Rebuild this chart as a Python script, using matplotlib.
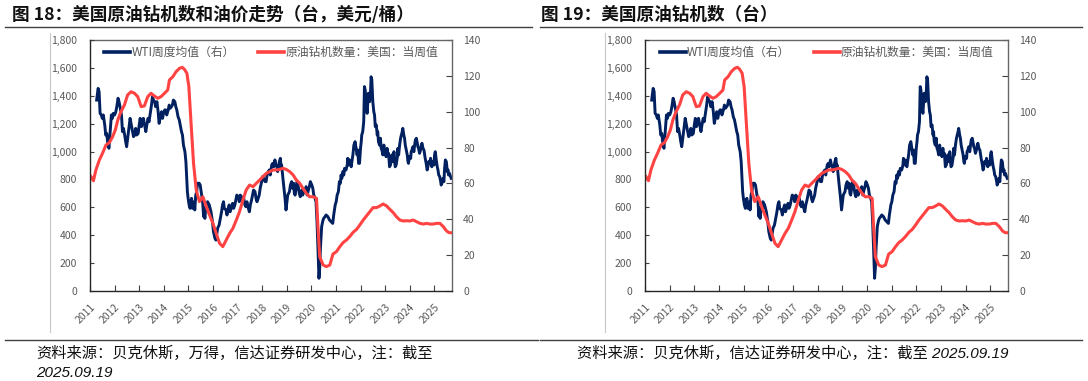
import matplotlib
matplotlib.use('Agg')
import matplotlib.pyplot as plt
from matplotlib.lines import Line2D
from matplotlib.ticker import FuncFormatter

plt.rcParams['font.family'] = ['Noto Sans CJK SC', 'DejaVu Sans']

# ---------------- data ----------------
# WTI weekly average (USD/bbl, right axis)
blue_years = [
    2011.27, 2011.33, 2011.37, 2011.41, 2011.46, 2011.50, 2011.54, 2011.60, 2011.64, 2011.68,
    2011.73, 2011.77, 2011.81, 2011.87, 2011.91, 2011.95, 2012.00, 2012.05, 2012.09, 2012.14,
    2012.18, 2012.22, 2012.28, 2012.32, 2012.36, 2012.41, 2012.45, 2012.49, 2012.55, 2012.59,
    2012.63, 2012.68, 2012.72, 2012.77, 2012.82, 2012.86, 2012.90, 2012.96, 2013.00, 2013.04,
    2013.09, 2013.13, 2013.17, 2013.23, 2013.27, 2013.31, 2013.36, 2013.40, 2013.44, 2013.50,
    2013.54, 2013.58, 2013.63, 2013.67, 2013.72, 2013.77, 2013.81, 2013.85, 2013.91, 2013.95,
    2013.99, 2014.04, 2014.08, 2014.12, 2014.18, 2014.22, 2014.26, 2014.31, 2014.35, 2014.39,
    2014.45, 2014.49, 2014.53, 2014.58, 2014.63, 2014.67, 2014.72, 2014.76, 2014.80, 2014.86,
    2014.90, 2014.94, 2014.96, 2014.99, 2015.03, 2015.07, 2015.10, 2015.13, 2015.17, 2015.21,
    2015.24, 2015.26, 2015.30, 2015.34, 2015.37, 2015.44, 2015.48, 2015.51, 2015.54, 2015.58,
    2015.62, 2015.64, 2015.67, 2015.71, 2015.75,
    2015.78, 2015.85, 2015.92, 2015.98, 2016.02, 2016.08, 2016.12, 2016.16, 2016.19, 2016.25,
    2016.30, 2016.35, 2016.39, 2016.43, 2016.46, 2016.53, 2016.57, 2016.62, 2016.66, 2016.70,
    2016.76, 2016.80, 2016.84, 2016.89, 2016.93, 2016.97, 2017.03, 2017.07, 2017.11, 2017.16,
    2017.21, 2017.25, 2017.30, 2017.34, 2017.38, 2017.44, 2017.48, 2017.52, 2017.57, 2017.61,
    2017.65, 2017.71, 2017.75, 2017.79, 2017.84, 2017.88, 2017.92, 2017.98, 2018.02, 2018.06,
    2018.12, 2018.16, 2018.20, 2018.25, 2018.29, 2018.33, 2018.39, 2018.43, 2018.47, 2018.52,
    2018.56, 2018.60, 2018.63, 2018.70, 2018.74, 2018.77, 2018.79, 2018.83, 2018.88, 2018.93,
    2018.97, 2019.01, 2019.04, 2019.11, 2019.15, 2019.20, 2019.24, 2019.28, 2019.31, 2019.34,
    2019.38, 2019.42, 2019.47, 2019.51, 2019.55, 2019.61, 2019.65, 2019.69, 2019.74, 2019.79,
    2019.83, 2019.88, 2019.92, 2019.96, 2020.02, 2020.06, 2020.10, 2020.15, 2020.19, 2020.23,
    2020.26, 2020.29, 2020.31, 2020.34, 2020.37, 2020.40, 2020.42, 2020.46, 2020.50, 2020.56,
    2020.60,
    2020.67, 2020.74, 2020.80, 2020.87, 2020.91, 2020.97, 2021.01, 2021.05, 2021.10, 2021.14,
    2021.18, 2021.21, 2021.24, 2021.28, 2021.32, 2021.35, 2021.41, 2021.46, 2021.48, 2021.51,
    2021.55, 2021.59, 2021.62, 2021.65, 2021.69, 2021.73, 2021.78, 2021.82, 2021.86, 2021.89,
    2021.92, 2021.96, 2022.00, 2022.03, 2022.05, 2022.09, 2022.13, 2022.16, 2022.19, 2022.23,
    2022.27, 2022.30, 2022.32, 2022.37, 2022.41, 2022.43, 2022.46, 2022.50, 2022.54, 2022.57,
    2022.60, 2022.64, 2022.68, 2022.70, 2022.73, 2022.77, 2022.81, 2022.84, 2022.87, 2022.91,
    2022.95, 2022.98, 2023.00, 2023.04, 2023.08, 2023.11, 2023.14, 2023.18, 2023.22, 2023.25,
    2023.27, 2023.32, 2023.36, 2023.38, 2023.41, 2023.45, 2023.49, 2023.52, 2023.55, 2023.59,
    2023.63, 2023.66, 2023.68, 2023.72, 2023.76, 2023.79, 2023.82, 2023.86, 2023.90, 2023.93,
    2023.95, 2023.99, 2024.04, 2024.06, 2024.09, 2024.13, 2024.17, 2024.20, 2024.23, 2024.27,
    2024.31, 2024.33, 2024.36, 2024.40, 2024.44, 2024.47, 2024.50, 2024.54, 2024.58, 2024.61,
    2024.63, 2024.67, 2024.71, 2024.74, 2024.77, 2024.81, 2024.85, 2024.88, 2024.90, 2024.94,
    2024.99, 2025.01, 2025.04, 2025.08, 2025.12, 2025.15, 2025.18, 2025.22, 2025.26, 2025.28,
    2025.31, 2025.35, 2025.39, 2025.42, 2025.45, 2025.49, 2025.53, 2025.56, 2025.58, 2025.62,
    2025.66, 2025.69,
]
blue_vals = [
    106.5, 113.0, 111.2, 99.1, 98.2, 96.3, 98.2, 92.6, 87.0, 87.9,
    81.4, 79.6, 87.0, 98.2, 96.3, 99.1, 98.2, 100.0, 102.8, 107.5,
    105.6, 102.8, 98.2, 88.9, 90.7, 87.0, 83.3, 80.5, 87.0, 91.7,
    96.3, 92.6, 89.8, 86.1, 87.0, 90.7, 87.0, 87.9, 92.6, 96.3,
    91.7, 94.4, 96.3, 91.7, 88.9, 92.6, 96.3, 94.4, 98.2, 103.7,
    108.4, 106.5, 105.6, 102.8, 105.6, 100.0, 93.5, 96.3, 100.0, 96.3,
    99.1, 101.0, 101.0, 98.2, 101.0, 103.7, 101.9, 102.8, 103.7, 106.5,
    105.6, 102.8, 101.0, 97.2, 95.4, 92.6, 88.9, 87.0, 81.4, 77.7,
    72.1, 61.0, 55.4, 51.7, 48.0, 46.1, 49.8, 51.7, 46.1, 48.0,
    49.8, 45.2, 53.5, 55.4, 60.1, 60.1, 59.1, 56.3, 53.5, 49.8,
    41.5, 46.1, 40.5, 47.0, 45.2,
    49.8, 48.0, 44.2, 38.7, 33.1, 29.4, 28.4, 32.2, 35.0, 36.8,
    40.5, 44.2, 48.0, 49.8, 46.1, 45.2, 42.4, 46.1, 48.0, 44.2,
    47.0, 48.9, 46.1, 48.0, 50.8, 53.5, 52.6, 49.8, 53.5, 52.6,
    49.8, 51.7, 48.0, 47.0, 49.8, 46.1, 44.2, 48.0, 50.8, 53.5,
    56.3, 55.4, 51.7, 49.8, 51.7, 53.5, 57.3, 61.0, 63.8, 62.8,
    61.0, 61.0, 64.7, 66.6, 67.5, 64.7, 70.3, 71.2, 69.3, 73.1,
    70.3, 69.3, 66.6, 72.1, 74.0, 69.3, 70.3, 64.7, 58.2, 51.7,
    45.2, 49.8, 53.5, 55.4, 59.1, 61.0, 57.3, 60.1, 54.5, 53.5,
    57.3, 61.0, 58.2, 54.5, 52.6, 56.3, 53.5, 55.4, 55.4, 58.2,
    53.5, 56.3, 58.2, 61.0, 59.1, 57.3, 53.5, 51.7, 49.8, 38.7,
    27.5, 14.5, 7.1, 12.6, 23.8, 31.2, 35.9, 38.7, 40.5, 41.5,
    42.4,
    41.5, 39.6, 38.7, 37.7, 42.4, 48.0, 49.8, 53.5, 55.4, 61.0,
    60.1, 64.7, 62.8, 66.6, 64.7, 68.4, 67.5, 70.3, 74.0, 70.3,
    73.1, 71.2, 69.3, 72.1, 75.9, 81.4, 83.3, 79.6, 75.9, 78.6,
    71.2, 71.2, 79.6, 83.3, 87.0, 88.9, 94.4, 114.0, 112.1, 103.7,
    99.1, 105.6, 110.3, 105.6, 112.1, 119.5, 117.7, 105.6, 100.0, 98.2,
    91.7, 92.6, 87.0, 88.9, 83.3, 81.4, 85.2, 79.6, 78.6, 75.9,
    81.4, 76.8, 78.6, 74.9, 79.6, 75.9, 76.8, 69.3, 70.3, 74.0,
    75.9, 72.1, 77.7, 73.1, 69.3, 70.3, 74.0, 79.6, 75.9, 81.4,
    85.2, 87.0, 87.9, 90.7, 87.0, 85.2, 81.4, 78.6, 75.9, 72.1,
    71.2, 74.9, 74.0, 77.7, 78.6, 80.5, 77.7, 81.4, 84.2, 85.2,
    82.4, 80.5, 79.6, 76.8, 78.6, 81.4, 82.4, 79.6, 78.6, 75.9,
    74.0, 71.2, 67.5, 69.3, 72.1, 71.2, 74.0, 70.3, 69.3, 72.1,
    70.3, 75.9, 77.7, 73.1, 69.3, 67.5, 64.7, 63.8, 61.0, 59.1,
    60.1, 62.8, 61.0, 68.4, 73.1, 72.1, 66.6, 67.5, 64.7, 65.6,
    63.8, 62.8,
]

# US crude oil rig count, weekly (left axis)
red_years = [
    2011.04, 2011.14, 2011.24, 2011.38, 2011.52, 2011.65, 2011.79, 2011.92, 2012.03, 2012.13,
    2012.26, 2012.40, 2012.53, 2012.67, 2012.81, 2012.94, 2013.08, 2013.21, 2013.35, 2013.48,
    2013.62, 2013.76, 2013.89, 2014.03, 2014.16, 2014.23, 2014.37, 2014.50, 2014.64, 2014.75,
    2014.84, 2014.94, 2015.02, 2015.11, 2015.21, 2015.32, 2015.45, 2015.59, 2015.73, 2015.86,
    2016.00, 2016.13, 2016.27, 2016.40, 2016.54, 2016.68, 2016.81, 2016.95, 2017.08, 2017.22,
    2017.35, 2017.49, 2017.63, 2017.76, 2017.90, 2018.03, 2018.17, 2018.31, 2018.44, 2018.58,
    2018.71, 2018.85, 2018.98, 2019.12, 2019.26, 2019.39, 2019.53, 2019.66, 2019.80, 2019.93,
    2020.07, 2020.21, 2020.27, 2020.34, 2020.48, 2020.61, 2020.75, 2020.88, 2021.02, 2021.16,
    2021.29, 2021.43, 2021.56, 2021.70, 2021.84, 2021.97, 2022.11, 2022.24, 2022.38, 2022.51,
    2022.65, 2022.79, 2022.92, 2023.06, 2023.19, 2023.33, 2023.46, 2023.60, 2023.74, 2023.87,
    2024.01, 2024.14, 2024.28, 2024.42, 2024.55, 2024.69, 2024.82, 2024.96, 2025.09, 2025.23,
    2025.37, 2025.50, 2025.61, 2025.71,
]
red_vals = [
    820, 791, 868, 939, 992, 1047, 1064, 1107, 1155, 1226,
    1286, 1334, 1406, 1429, 1418, 1394, 1322, 1327, 1394, 1418,
    1398, 1382, 1394, 1418, 1441, 1513, 1537, 1573, 1597, 1604,
    1590, 1561, 1465, 1202, 916, 724, 641, 676, 605, 545,
    485, 414, 342, 318, 366, 414, 449, 509, 569, 653,
    724, 760, 748, 772, 796, 820, 844, 856, 868, 868,
    872, 880, 872, 856, 832, 796, 772, 736, 700, 676,
    676, 665, 461, 246, 186, 175, 186, 265, 282, 318,
    347, 366, 390, 421, 442, 473, 509, 538, 569, 598,
    598, 610, 624, 610, 586, 562, 533, 509, 502, 504,
    502, 509, 497, 485, 480, 485, 480, 480, 485, 485,
    461, 430, 418, 418,
]

left_ticks = [0, 200, 400, 600, 800, 1000, 1200, 1400, 1600, 1800]
right_ticks = [0, 20, 40, 60, 80, 100, 120, 140]
year_ticks = list(range(2011, 2026))
year_labels = [str(y) for y in year_ticks]
x_end = 2025.72

legend_blue = 'WTI周度均值（右）'
legend_red = '原油钻机数量：美国：当周值'

titles = ['图 18：美国原油钻机数和油价走势（台，美元/桶）', '图 19：美国原油钻机数（台）']
sources = [
    ['资料来源：贝克休斯，万得，信达证券研发中心，注：截至', '2025.09.19'],
    ['资料来源：贝克休斯，信达证券研发中心，注：截至 2025.09.19'],
]

# ---------------- styling ----------------
BLUE = '#002060'
RED = '#FF4343'
GRAY = '#595959'
W, H = 1088, 381

fig = plt.figure(figsize=(W / 100, H / 100), dpi=100)


def fx(px):
    return px / W


def fy(py):
    return 1 - py / H


layout = [
    dict(l=90, r=452, vline=50, tx=12, rule=(5, 532), sx=36),
    dict(l=645, r=1008, vline=605, tx=541, rule=(540, 1082), sx=577),
]

for i, p in enumerate(layout):
    top, bot = 40, 291
    ax = fig.add_axes([fx(p['l']), fy(bot), (p['r'] - p['l']) / W, (bot - top) / H])
    ax2 = ax.twinx()
    ax.set_zorder(ax2.get_zorder() + 1)
    ax.patch.set_visible(False)

    ax2.plot(blue_years, blue_vals, color=BLUE, lw=2.1, solid_joinstyle='round')
    ax.plot(red_years, red_vals, color=RED, lw=2.2, solid_joinstyle='round')

    ax.set_xlim(2011.0, x_end)
    ax.set_ylim(0, 1800)
    ax2.set_ylim(0, 140)

    ax.set_yticks(left_ticks)
    ax.yaxis.set_major_formatter(FuncFormatter(lambda v, _: f'{int(v):,}'))
    ax2.set_yticks(right_ticks)
    ax.set_xticks(year_ticks)
    ax.set_xticklabels(year_labels, rotation=45, ha='right', rotation_mode='anchor')

    ax.tick_params(axis='x', direction='in', length=4, width=0.8, color='#404040',
                   labelsize=7.5, labelcolor=GRAY, pad=8)
    ax.tick_params(axis='y', direction='in', length=3, width=0.8, color='#404040',
                   labelsize=7.5, labelcolor=GRAY, pad=9.5)
    ax2.tick_params(axis='y', direction='in', length=4, width=0.8, color='#404040',
                    labelsize=7.5, labelcolor=GRAY, pad=8)

    for s in ['top', 'right']:
        ax.spines[s].set_visible(False)
    for s in ['left', 'bottom']:
        ax2.spines[s].set_visible(False)
        ax.spines[s].set_color('#262626')
        ax.spines[s].set_linewidth(1.0)
    for s in ['top', 'right']:
        ax2.spines[s].set_color('#666666')
        ax2.spines[s].set_linewidth(1.0)

    handles = [Line2D([], [], color=BLUE, lw=2.6), Line2D([], [], color=RED, lw=2.6)]
    leg = ax.legend(handles, [legend_blue, legend_red], loc='upper center',
                    bbox_to_anchor=(0.5, 1.0), ncol=2, frameon=False, fontsize=8.5,
                    handlelength=2.2, handletextpad=0.1, columnspacing=2.0,
                    borderaxespad=0.2, borderpad=0.3)
    for t in leg.get_texts():
        t.set_color(GRAY)

    # title + rule
    fig.text(fx(p['tx']), fy(15), titles[i], fontsize=12.7, fontweight='bold',
             color='#111111', ha='left', va='center', family=['Noto Sans CJK SC', 'DejaVu Sans'])
    fig.add_artist(Line2D([fx(p['rule'][0]), fx(p['rule'][1])], [fy(26.5), fy(26.5)],
                          color='#404040', lw=1.0))
    # light chart-area border
    fig.add_artist(Line2D([fx(p['vline']), fx(p['vline'])], [fy(33), fy(332)],
                          color='#c8c8c8', lw=0.8))
    # bottom rule
    fig.add_artist(Line2D([fx(p['rule'][0]), fx(p['rule'][1] + (6 if i == 0 else 0))],
                          [fy(340), fy(340)], color='#404040', lw=1.0))
    # source text
    for k, line in enumerate(sources[i]):
        fig.text(fx(p['sx']), fy(353.5 + 19.5 * k), line, fontsize=11, style='italic',
                 color='#111111', ha='left', va='center',
                 family=['Liberation Sans', 'Noto Sans CJK SC'])

fig.savefig('out.png', dpi=100)
